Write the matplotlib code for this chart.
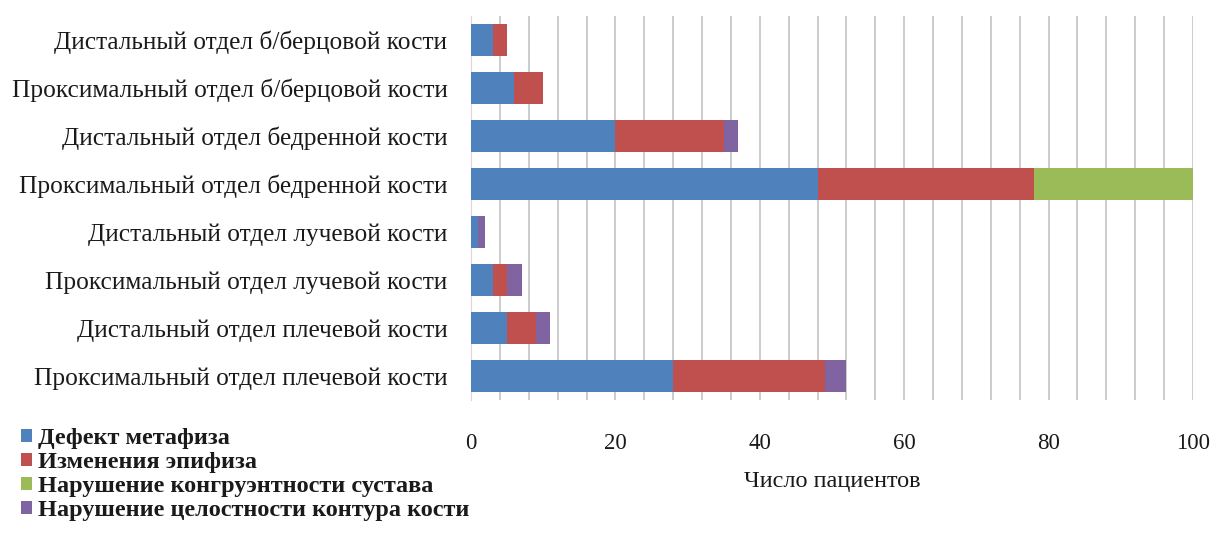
import matplotlib
matplotlib.use("Agg")
import matplotlib.pyplot as plt
import numpy as np
from matplotlib.ticker import MultipleLocator

categories = [
    "Дистальный отдел б/берцовой кости",
    "Проксимальный отдел б/берцовой кости",
    "Дистальный отдел бедренной кости",
    "Проксимальный отдел бедренной кости",
    "Дистальный отдел лучевой кости",
    "Проксимальный отдел лучевой кости",
    "Дистальный отдел плечевой кости",
    "Проксимальный отдел плечевой кости",
]
series_names = [
    "Дефект метафиза",
    "Изменения эпифиза",
    "Нарушение конгруэнтности сустава",
    "Нарушение целостности контура кости",
]
metaphysis = [3, 6, 20, 48, 1, 3, 5, 28]
epiphysis = [2, 4, 15, 30, 0, 2, 4, 21]
congruence = [0, 0, 0, 22, 0, 0, 0, 0]
contour = [0, 0, 2, 0, 1, 2, 2, 3]
x_ticks = [0, 20, 40, 60, 80, 100]

colors = ["#4F81BD", "#C0504D", "#9BBB59", "#8064A2"]
serif = "Liberation Serif"

fig = plt.figure(figsize=(12.15, 5.36), dpi=100)
ax = fig.add_axes([471 / 1215, 1 - 400 / 536, (1193 - 471) / 1215, (400 - 16) / 536])

y = np.arange(len(categories))
left = np.zeros(len(categories))
for vals, name, col in zip([metaphysis, epiphysis, congruence, contour], series_names, colors):
    vals = np.array(vals, dtype=float)
    ax.barh(y, vals, left=left, height=0.68, color=col, label=name, zorder=3)
    left += vals

ax.set_ylim(len(categories) - 0.5, -0.5)
ax.set_xlim(0, 100)
ax.set_yticks(y)
ax.set_yticklabels(categories, fontfamily=serif, fontsize=18.3, color="#1a1a1a")
ax.set_xticks(x_ticks)
ax.set_xticklabels([str(t) for t in x_ticks], fontfamily=serif, fontsize=16.5, color="#1a1a1a")
ax.xaxis.set_minor_locator(MultipleLocator(4))
ax.grid(axis="x", which="both", color="#c4c4c4", linewidth=1.2, zorder=0)
ax.tick_params(axis="y", length=0, pad=17)
ax.tick_params(axis="x", which="both", length=0, pad=24)
for s in ["top", "right", "bottom"]:
    ax.spines[s].set_visible(False)
ax.spines["left"].set_color("#d8d8d8")

ax.set_xlabel("Число пациентов", fontfamily=serif, fontsize=17.5, labelpad=12, color="#1a1a1a")

handles, labels = ax.get_legend_handles_labels()
leg = fig.legend(handles, labels, loc="upper left", bbox_to_anchor=(0.017, 1 - 428 / 536),
                 frameon=False, prop={"family": serif, "weight": "bold", "size": 17.5},
                 handlelength=0.45, handleheight=0.45, handletextpad=0.25, labelspacing=0.12,
                 borderaxespad=0, borderpad=0)
for t in leg.get_texts():
    t.set_color("#1a1a1a")

fig.savefig("out.png", dpi=100)
